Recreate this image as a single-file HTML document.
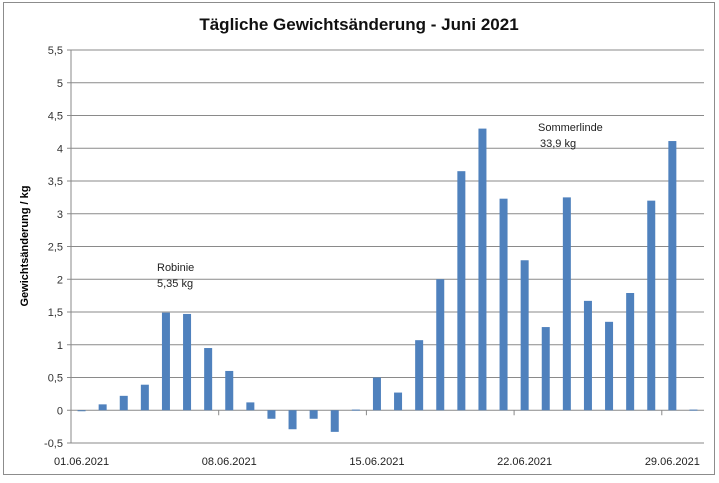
<!DOCTYPE html>
<html><head><meta charset="utf-8"><style>
body{margin:0;background:#fff;}
svg text{font-family:"Liberation Sans",sans-serif;}
</style></head><body>
<svg id="chart" width="719" height="478" xmlns="http://www.w3.org/2000/svg">
<rect x="3.5" y="2.5" width="711" height="472" fill="#fff" stroke="#8c8c8c"/>
<text x="359" y="30" text-anchor="middle" font-size="17" font-weight="bold" fill="#111">Tägliche Gewichtsänderung - Juni 2021</text>
<text transform="translate(28,246) rotate(-90)" text-anchor="middle" font-size="11" font-weight="bold" fill="#000">Gewichtsänderung / kg</text>
<g id="grid"></g><g id="bars"></g><g id="axes"></g>
<text x="157" y="356" font-size="11" fill="#222"><tspan x="157" y="356" dy="-85">Robinie</tspan><tspan x="157" dy="16">5,35 kg</tspan></text>
<text x="538" y="131" font-size="11" fill="#222">Sommerlinde<tspan x="540" dy="16">33,9 kg</tspan></text>
</svg>
<script>
const categories=["01.06.2021","02.06.2021","03.06.2021","04.06.2021","05.06.2021","06.06.2021","07.06.2021","08.06.2021","09.06.2021","10.06.2021","11.06.2021","12.06.2021","13.06.2021","14.06.2021","15.06.2021","16.06.2021","17.06.2021","18.06.2021","19.06.2021","20.06.2021","21.06.2021","22.06.2021","23.06.2021","24.06.2021","25.06.2021","26.06.2021","27.06.2021","28.06.2021","29.06.2021","30.06.2021"];
const values=[-0.01,0.09,0.22,0.39,1.49,1.47,0.95,0.6,0.12,-0.13,-0.29,-0.13,-0.33,0.01,0.5,0.27,1.07,2.0,3.65,4.3,3.23,2.29,1.27,3.25,1.67,1.35,1.79,3.2,4.11,0.01];
const yTicks=[-0.5,0,0.5,1,1.5,2,2.5,3,3.5,4,4.5,5,5.5];
const xLabelIdx=[0,7,14,21,28];
const NS="http://www.w3.org/2000/svg";
const L=71,R=704,T=50,B=443,ymin=-0.5,ymax=5.5;
const y=v=>B-(v-ymin)/(ymax-ymin)*(B-T);
const bw=(R-L)/categories.length;
const x=i=>L+bw*(i+0.5);
function mk(t,a,p){const e=document.createElementNS(NS,t);for(const k in a)e.setAttribute(k,a[k]);document.getElementById(p).appendChild(e);return e;}
yTicks.forEach(v=>{
 const g=mk('line',{x1:L-4,x2:R,y1:y(v),y2:y(v),stroke:v===ymin?'#888':'#8a8a8a','stroke-width':1},'grid');
 
 
 const t=mk('text',{x:L-8,y:y(v)+4,'text-anchor':'end','font-size':11,fill:'#333'},'axes');
 t.textContent=String(v).replace('.',',');
 
 
});
const ax=mk('line',{x1:L,x2:L,y1:T,y2:B,stroke:'#888'},'axes');


values.forEach((v,i)=>{
 const y0=y(0),y1=y(v);
 const r=mk('rect',{x:x(i)-4,y:Math.min(y0,y1),width:8,height:Math.max(1,Math.abs(y1-y0)),fill:'#4f81bd'},'bars');
 
 
});
xLabelIdx.forEach(i=>{
 const t=mk('text',{x:x(i),y:B+22,'text-anchor':'middle','font-size':11,fill:'#222'},'axes');
 t.textContent=categories[i];
 
 
 if(i>0){const tk=mk('line',{x1:L+bw*i,x2:L+bw*i,y1:y(0),y2:y(0)+5,stroke:'#888'},'axes');
 
 }
});
</script>
</body></html>
